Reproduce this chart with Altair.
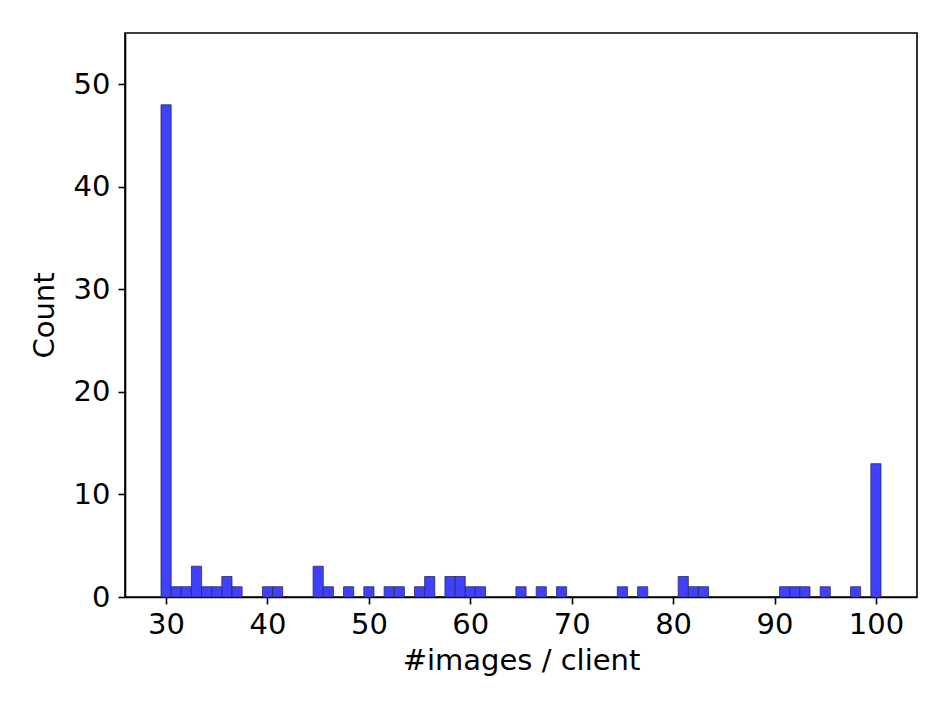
import altair as alt
import pandas as pd

# histogram bins (integer #images / client) and counts
values = [30, 31, 32, 33, 34, 35, 36, 37, 40, 41, 45, 46, 48, 50, 52, 53,
          55, 56, 58, 59, 60, 61, 65, 67, 69, 75, 77, 81, 82, 83,
          91, 92, 93, 95, 98, 100]
counts = [48, 1, 1, 3, 1, 1, 2, 1, 1, 1, 3, 1, 1, 1, 1, 1,
          1, 2, 2, 2, 1, 1, 1, 1, 1, 1, 1, 2, 1, 1,
          1, 1, 1, 1, 1, 13]
x_ticks = [30, 40, 50, 60, 70, 80, 90, 100]
y_ticks = [0, 10, 20, 30, 40, 50]

df = pd.DataFrame({"value": values, "count": counts})
df["lo"] = df["value"] - 0.5
df["hi"] = df["value"] + 0.5
df["base"] = 0

FONT = "DejaVu Sans"
FS = 29

chart = (
    alt.Chart(df)
    .mark_bar(color="#4040ff", stroke="#2b2b55", strokeWidth=1, strokeOpacity=0.8)
    .encode(
        x=alt.X("lo:Q",
                scale=alt.Scale(domain=[25.95, 104.05], nice=False, zero=False),
                axis=alt.Axis(values=x_ticks, title="#images / client", format="d")),
        x2="hi:Q",
        y=alt.Y("count:Q",
                scale=alt.Scale(domain=[0, 55], nice=False),
                axis=alt.Axis(values=y_ticks, title="Count")),
        y2="base:Q",
    )
    .properties(
        width=792,
        height=564,
        autosize=alt.AutoSizeParams(type="none"),
        padding={"left": 117, "top": 25, "right": 26, "bottom": 100},
    )
    .configure_view(stroke="black", strokeWidth=1.6)
    .configure_axis(
        grid=False,
        domainColor="black",
        domainWidth=1.6,
        tickColor="black",
        tickWidth=1.6,
        tickSize=7,
        labelFont=FONT,
        labelFontSize=FS,
        labelColor="black",
        labelPadding=6,
        titleFont=FONT,
        titleFontSize=FS,
        titleFontWeight="normal",
        titleColor="black",
    )
    .configure_axisX(titlePadding=7, labelFlush=False)
    .configure_axisY(titlePadding=14, labelPadding=8)
)

chart.save("out.html", embed_options={"renderer": "svg", "actions": False})
